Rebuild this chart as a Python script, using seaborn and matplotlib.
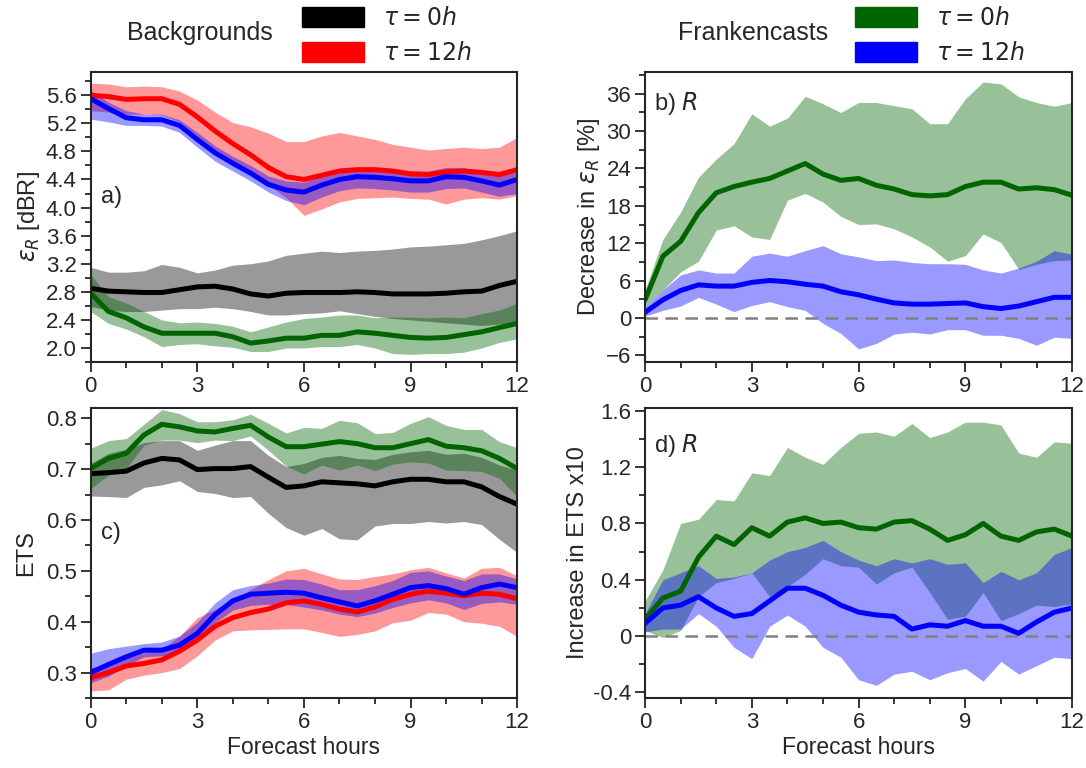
import numpy as np
import pandas as pd
import matplotlib.pyplot as plt
import seaborn as sns
from matplotlib.patches import Patch
from matplotlib.ticker import MultipleLocator, FormatStrFormatter

# forecast hours, every half hour
hours = np.arange(0, 12.5, 0.5)

# ---- a) error of backgrounds / frankencasts [dBR]
a_black = [2.85, 2.81, 2.80, 2.79, 2.79, 2.83, 2.87, 2.88, 2.84, 2.77, 2.74, 2.78, 2.79,
           2.79, 2.79, 2.80, 2.79, 2.77, 2.77, 2.77, 2.78, 2.80, 2.81, 2.89, 2.95]
a_black_hi = [3.15, 3.08, 3.08, 3.10, 3.19, 3.15, 3.07, 3.11, 3.18, 3.20, 3.24, 3.32, 3.35,
              3.38, 3.36, 3.38, 3.39, 3.41, 3.44, 3.45, 3.47, 3.49, 3.54, 3.60, 3.67]
a_black_lo = [2.59, 2.54, 2.52, 2.52, 2.54, 2.56, 2.56, 2.58, 2.56, 2.52, 2.47, 2.47, 2.49,
              2.50, 2.53, 2.49, 2.45, 2.42, 2.40, 2.38, 2.36, 2.34, 2.32, 2.34, 2.36]
a_red = [5.60, 5.58, 5.54, 5.55, 5.55, 5.47, 5.29, 5.09, 4.91, 4.75, 4.57, 4.44, 4.40,
         4.46, 4.52, 4.54, 4.54, 4.52, 4.48, 4.47, 4.51, 4.52, 4.50, 4.47, 4.54]
a_red_hi = [5.77, 5.76, 5.72, 5.73, 5.72, 5.66, 5.53, 5.36, 5.21, 5.15, 5.06, 4.94, 4.94,
            5.02, 5.07, 5.02, 4.97, 4.90, 4.86, 4.82, 4.84, 4.86, 4.84, 4.86, 5.00]
a_red_lo = [5.38, 5.36, 5.33, 5.33, 5.32, 5.22, 5.02, 4.82, 4.66, 4.50, 4.32, 4.14, 3.89,
            3.98, 4.08, 4.13, 4.14, 4.15, 4.13, 4.12, 4.05, 4.12, 4.14, 4.12, 4.17]
a_green = [2.78, 2.52, 2.43, 2.30, 2.21, 2.21, 2.21, 2.21, 2.16, 2.07, 2.10, 2.14, 2.14,
           2.18, 2.18, 2.23, 2.21, 2.18, 2.15, 2.14, 2.15, 2.19, 2.23, 2.29, 2.35]
a_green_hi = [3.05, 2.73, 2.64, 2.52, 2.40, 2.36, 2.37, 2.35, 2.31, 2.23, 2.30, 2.37, 2.42,
              2.44, 2.47, 2.47, 2.43, 2.44, 2.44, 2.43, 2.44, 2.43, 2.49, 2.54, 2.64]
a_green_lo = [2.52, 2.35, 2.27, 2.16, 2.02, 2.05, 2.06, 2.03, 2.01, 1.95, 1.95, 2.00, 2.00,
              2.02, 2.02, 2.05, 2.00, 1.92, 1.91, 1.92, 1.92, 1.94, 2.00, 2.08, 2.13]
a_blue = [5.55, 5.41, 5.28, 5.25, 5.25, 5.17, 4.97, 4.78, 4.63, 4.49, 4.33, 4.25, 4.22,
          4.32, 4.40, 4.44, 4.43, 4.41, 4.38, 4.38, 4.44, 4.43, 4.38, 4.32, 4.40]
a_blue_hi = [5.67, 5.50, 5.38, 5.33, 5.33, 5.25, 5.07, 4.88, 4.73, 4.60, 4.45, 4.38, 4.36,
             4.46, 4.56, 4.57, 4.57, 4.55, 4.52, 4.52, 4.57, 4.57, 4.52, 4.48, 4.55]
a_blue_lo = [5.26, 5.22, 5.17, 5.17, 5.16, 5.07, 4.86, 4.66, 4.52, 4.38, 4.22, 4.10, 4.04,
             4.15, 4.24, 4.28, 4.27, 4.25, 4.22, 4.22, 4.27, 4.28, 4.22, 4.16, 4.20]

# ---- b) decrease in error of frankencasts [%]
b_green = [2.9, 9.9, 12.3, 16.9, 20.1, 21.1, 21.8, 22.4, 23.6, 24.8, 23.1, 22.1, 22.4,
           21.3, 20.7, 19.8, 19.6, 19.8, 21.1, 21.8, 21.8, 20.7, 20.9, 20.6, 19.7]
b_green_hi = [4.5, 12.6, 17.0, 22.6, 25.5, 28.0, 32.8, 30.8, 32.1, 35.6, 34.4, 33.0, 34.6,
              34.6, 34.1, 33.6, 31.2, 31.2, 35.2, 37.9, 37.6, 35.5, 34.6, 34.0, 34.6]
b_green_lo = [1.8, 4.5, 7.4, 9.1, 14.1, 14.8, 13.0, 12.6, 18.9, 20.0, 18.6, 16.3, 15.0,
              15.1, 14.3, 13.0, 11.4, 9.1, 10.0, 13.5, 12.1, 7.8, 8.6, 9.2, 9.3]
b_blue = [0.9, 2.9, 4.4, 5.3, 5.1, 5.1, 5.7, 6.0, 5.8, 5.4, 5.1, 4.2, 3.7,
          3.0, 2.4, 2.2, 2.2, 2.3, 2.4, 1.8, 1.5, 1.9, 2.6, 3.3, 3.3]
b_blue_hi = [1.8, 4.5, 6.9, 7.7, 7.2, 7.2, 9.9, 10.4, 9.9, 10.8, 11.6, 10.3, 9.8,
             9.2, 9.3, 8.9, 8.7, 8.7, 8.6, 7.7, 7.2, 8.0, 9.1, 10.8, 10.2]
b_blue_lo = [0.3, 1.2, 1.9, 3.3, 2.2, 1.0, 2.0, 2.6, 1.8, 1.2, -0.9, -2.5, -5.0,
             -4.1, -2.6, -2.3, -2.6, -1.9, -1.9, -2.8, -2.8, -3.3, -4.4, -3.1, -3.3]

# ---- c) ETS
c_black = [0.691, 0.693, 0.696, 0.712, 0.721, 0.718, 0.699, 0.701, 0.701, 0.705, 0.684, 0.664, 0.667,
           0.675, 0.673, 0.671, 0.667, 0.675, 0.680, 0.680, 0.675, 0.675, 0.665, 0.646, 0.631]
c_black_hi = [0.711, 0.731, 0.739, 0.752, 0.756, 0.756, 0.737, 0.747, 0.756, 0.756, 0.727, 0.705, 0.711,
              0.723, 0.727, 0.721, 0.719, 0.729, 0.734, 0.737, 0.729, 0.731, 0.723, 0.708, 0.698]
c_black_lo = [0.647, 0.646, 0.644, 0.664, 0.669, 0.677, 0.656, 0.652, 0.644, 0.646, 0.613, 0.585, 0.570,
              0.583, 0.563, 0.561, 0.588, 0.593, 0.593, 0.597, 0.594, 0.597, 0.591, 0.562, 0.536]
c_red = [0.290, 0.300, 0.313, 0.318, 0.325, 0.342, 0.364, 0.391, 0.408, 0.418, 0.425, 0.437, 0.441,
         0.434, 0.425, 0.419, 0.429, 0.444, 0.454, 0.460, 0.456, 0.451, 0.456, 0.454, 0.445]
c_red_hi = [0.310, 0.314, 0.329, 0.339, 0.346, 0.372, 0.408, 0.424, 0.444, 0.463, 0.483, 0.500, 0.505,
            0.494, 0.484, 0.483, 0.489, 0.494, 0.502, 0.507, 0.496, 0.486, 0.505, 0.507, 0.490]
c_red_lo = [0.264, 0.266, 0.287, 0.295, 0.300, 0.308, 0.333, 0.364, 0.382, 0.384, 0.385, 0.386, 0.386,
            0.379, 0.371, 0.375, 0.382, 0.398, 0.403, 0.418, 0.415, 0.400, 0.397, 0.391, 0.371]
c_green = [0.701, 0.721, 0.731, 0.767, 0.788, 0.783, 0.775, 0.773, 0.780, 0.786, 0.763, 0.744, 0.744,
           0.749, 0.754, 0.750, 0.742, 0.742, 0.750, 0.758, 0.745, 0.742, 0.736, 0.721, 0.701]
c_green_hi = [0.741, 0.756, 0.760, 0.788, 0.817, 0.809, 0.793, 0.793, 0.797, 0.808, 0.790, 0.771, 0.782,
              0.780, 0.796, 0.791, 0.770, 0.772, 0.790, 0.803, 0.786, 0.778, 0.778, 0.754, 0.742]
c_green_lo = [0.662, 0.688, 0.701, 0.747, 0.757, 0.757, 0.752, 0.757, 0.756, 0.765, 0.737, 0.706, 0.690,
              0.708, 0.698, 0.708, 0.697, 0.710, 0.714, 0.712, 0.698, 0.697, 0.695, 0.682, 0.646]
c_blue = [0.300, 0.316, 0.331, 0.344, 0.344, 0.354, 0.377, 0.414, 0.441, 0.454, 0.456, 0.458, 0.456,
          0.447, 0.439, 0.431, 0.441, 0.454, 0.467, 0.471, 0.465, 0.454, 0.467, 0.474, 0.467]
c_blue_hi = [0.338, 0.347, 0.352, 0.357, 0.360, 0.372, 0.399, 0.437, 0.463, 0.471, 0.476, 0.484, 0.483,
             0.474, 0.463, 0.463, 0.471, 0.481, 0.497, 0.500, 0.490, 0.481, 0.494, 0.494, 0.484]
c_blue_lo = [0.280, 0.293, 0.313, 0.331, 0.333, 0.339, 0.362, 0.398, 0.423, 0.432, 0.434, 0.434, 0.429,
             0.423, 0.415, 0.410, 0.417, 0.428, 0.437, 0.443, 0.437, 0.424, 0.436, 0.439, 0.434]

# ---- d) increase in ETS x10
d_green = [0.12, 0.27, 0.32, 0.56, 0.71, 0.65, 0.77, 0.71, 0.81, 0.84, 0.80, 0.81, 0.77,
           0.76, 0.81, 0.82, 0.76, 0.68, 0.72, 0.80, 0.71, 0.68, 0.74, 0.76, 0.71]
d_green_hi = [0.25, 0.47, 0.80, 0.83, 0.97, 0.96, 1.16, 1.14, 1.34, 1.27, 1.22, 1.34, 1.44,
              1.45, 1.42, 1.51, 1.41, 1.45, 1.52, 1.52, 1.50, 1.30, 1.27, 1.38, 1.37]
d_green_lo = [0.04, -0.01, 0.04, 0.28, 0.38, 0.41, 0.45, 0.28, 0.35, 0.44, 0.55, 0.50, 0.49,
              0.37, 0.45, 0.49, 0.31, 0.12, 0.14, 0.31, 0.11, 0.16, 0.22, 0.21, 0.23]
d_blue = [0.09, 0.20, 0.22, 0.28, 0.20, 0.14, 0.16, 0.25, 0.34, 0.34, 0.29, 0.22, 0.17,
          0.15, 0.14, 0.05, 0.08, 0.07, 0.11, 0.07, 0.07, 0.02, 0.10, 0.17, 0.20]
d_blue_hi = [0.16, 0.40, 0.45, 0.50, 0.41, 0.42, 0.45, 0.54, 0.60, 0.63, 0.68, 0.60, 0.54,
             0.50, 0.55, 0.52, 0.55, 0.51, 0.52, 0.38, 0.46, 0.40, 0.45, 0.58, 0.63]
d_blue_lo = [0.03, 0.05, 0.05, 0.16, 0.07, -0.08, -0.16, 0.07, 0.15, 0.07, -0.08, -0.15, -0.31,
             -0.35, -0.27, -0.25, -0.31, -0.26, -0.23, -0.32, -0.18, -0.27, -0.21, -0.15, -0.16]

d_ticks = [-0.4, 0, 0.4, 0.8, 1.2, 1.6]
d_ticklabels = ['-0.4', '0', '0.4', '0.8', '1.2', '1.6']

colors = {'black': 'black', 'red': 'red', 'green': 'darkgreen', 'blue': 'blue'}

sns.set_style("ticks")
plt.rcParams['font.family'] = ['Liberation Sans', 'DejaVu Sans']
plt.rcParams['mathtext.fontset'] = 'dejavusans'
plt.rcParams['font.size'] = 16

fig = plt.figure(figsize=(10.86, 7.68), dpi=100)
ax_a = fig.add_axes([0.0835, 0.5286, 0.3927, 0.3776])
ax_b = fig.add_axes([0.594, 0.5286, 0.3932, 0.3776])
ax_c = fig.add_axes([0.0835, 0.0911, 0.3927, 0.3776])
ax_d = fig.add_axes([0.594, 0.0911, 0.3932, 0.3776])


def draw(ax, series):
    # series: list of (colour name, mean, low, high)
    for name, mean, lo, hi in series:
        ax.fill_between(hours, lo, hi, color=colors[name], alpha=0.4, lw=0)
    rows = []
    for name, mean, lo, hi in series:
        rows.append(pd.DataFrame({'hour': hours, 'value': mean, 'run': name}))
    df = pd.concat(rows)
    sns.lineplot(data=df, x='hour', y='value', hue='run',
                 palette=[colors[s[0]] for s in series], lw=3.6,
                 legend=False, ax=ax)


draw(ax_a, [('black', a_black, a_black_lo, a_black_hi),
            ('red', a_red, a_red_lo, a_red_hi),
            ('green', a_green, a_green_lo, a_green_hi),
            ('blue', a_blue, a_blue_lo, a_blue_hi)])
draw(ax_b, [('green', b_green, b_green_lo, b_green_hi),
            ('blue', b_blue, b_blue_lo, b_blue_hi)])
draw(ax_c, [('black', c_black, c_black_lo, c_black_hi),
            ('red', c_red, c_red_lo, c_red_hi),
            ('green', c_green, c_green_lo, c_green_hi),
            ('blue', c_blue, c_blue_lo, c_blue_hi)])
draw(ax_d, [('green', d_green, d_green_lo, d_green_hi),
            ('blue', d_blue, d_blue_lo, d_blue_hi)])

for ax in (ax_b, ax_d):
    ax.axhline(0, color='grey', ls='--', lw=1.8, dashes=(5, 3), zorder=1)

ax_a.set_ylim(1.8, 5.93)
ax_a.yaxis.set_major_locator(MultipleLocator(0.4))
ax_a.yaxis.set_minor_locator(MultipleLocator(0.2))
ax_a.yaxis.set_major_formatter(FormatStrFormatter('%.1f'))

ax_b.set_ylim(-7.1, 39.5)
ax_b.yaxis.set_major_locator(MultipleLocator(6))
ax_b.yaxis.set_minor_locator(MultipleLocator(3))

ax_c.set_ylim(0.25, 0.82)
ax_c.yaxis.set_major_locator(MultipleLocator(0.1))
ax_c.yaxis.set_minor_locator(MultipleLocator(0.05))
ax_c.yaxis.set_major_formatter(FormatStrFormatter('%.1f'))

ax_d.set_ylim(-0.44, 1.62)
ax_d.set_yticks(d_ticks)
ax_d.set_yticklabels(d_ticklabels)
ax_d.yaxis.set_minor_locator(MultipleLocator(0.2))

for ax in (ax_a, ax_b, ax_c, ax_d):
    ax.set_xlim(0, 12)
    ax.xaxis.set_major_locator(MultipleLocator(3))
    ax.xaxis.set_minor_locator(MultipleLocator(1))
    ax.tick_params(which='major', direction='out', length=7, width=1.3, labelsize=16, pad=3)
    ax.tick_params(which='minor', direction='out', length=4.5, width=1.3)
    for sp in ax.spines.values():
        sp.set_linewidth(1.5)
        sp.set_visible(True)
    ax.set_xlabel('')

ax_c.set_xlabel('Forecast hours', fontsize=16.5, labelpad=2)
ax_d.set_xlabel('Forecast hours', fontsize=16.5, labelpad=2)
ax_a.set_ylabel(r'$\varepsilon_R$ [dBR]', fontsize=17, labelpad=3)
ax_b.set_ylabel(r'Decrease in $\varepsilon_R$ [%]', fontsize=17, labelpad=3)
ax_c.set_ylabel('ETS', fontsize=17, labelpad=6)
ax_d.set_ylabel('Increase in ETS x10', fontsize=17, labelpad=3)

ax_a.text(0.025, 0.57, 'a)', transform=ax_a.transAxes, fontsize=17, va='center')
ax_b.text(0.02, 0.89, r'b) $R$', transform=ax_b.transAxes, fontsize=17, va='center')
ax_c.text(0.025, 0.57, 'c)', transform=ax_c.transAxes, fontsize=17, va='center')
ax_d.text(0.02, 0.87, r'd) $R$', transform=ax_d.transAxes, fontsize=17, va='center')

# legends above each column
fig.text(0.184, 0.957, 'Backgrounds', fontsize=18, ha='center', va='center')
fig.text(0.693, 0.957, 'Frankencasts', fontsize=18, ha='center', va='center')
h_left = [Patch(color='black', label=r'$\tau = 0h$'), Patch(color='red', label=r'$\tau = 12h$')]
h_right = [Patch(color='darkgreen', label=r'$\tau = 0h$'), Patch(color='blue', label=r'$\tau = 12h$')]
for handles, x0 in ((h_left, 0.272), (h_right, 0.781)):
    fig.legend(handles=handles, loc='upper left', bbox_to_anchor=(x0, 1.0),
               frameon=False, fontsize=17, handlelength=2.6, handleheight=0.9,
               labelspacing=0.5, handletextpad=0.8, borderpad=0.3, borderaxespad=0)

fig.savefig('out.png', dpi=100)
